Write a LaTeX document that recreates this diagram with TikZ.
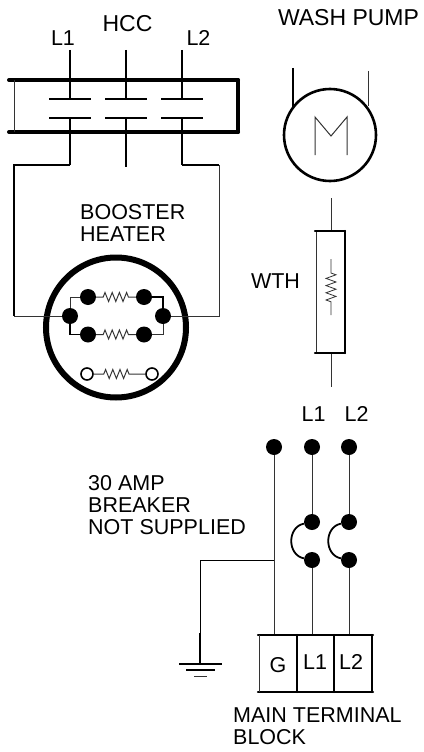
\documentclass[tikz,border=0pt]{standalone}
\usepackage{fontspec}
\setmainfont{Liberation Sans}
\usetikzlibrary{decorations.pathmorphing}
\tikzset{
  label21/.style={inner sep=0pt,font=\fontsize{21.5}{22}\selectfont,align=left},
  label23/.style={inner sep=0pt,font=\fontsize{23}{24}\selectfont},
  thinwire/.style={line width=1pt,black!80},
  wire/.style={line width=1.8pt},
  bar/.style={line width=4pt,line cap=round},
  blockbar/.style={line width=2.2pt,line cap=round},
  dot/.style={circle,fill=black,inner sep=0pt,minimum size=16pt},
  opendot/.style={circle,draw,line width=1.6pt,fill=white,inner sep=0pt,minimum size=12pt},
  coil/.style={thinwire,decorate,decoration={zigzag,segment length=7.2pt,amplitude=4.5pt,pre length=7pt,post length=4pt}}
}
\begin{document}
\begin{tikzpicture}[x=1pt,y=-1pt]
\useasboundingbox (0,0) rectangle (423,752);
%Names
\node (hccl1) at (63,38) [label21] {L1};
\node (hcc) at (127.5,24) [label23] {HCC};
\node (hccl2) at (198.5,38) [label21] {L2};
\node (washpump) at (348.5,18) [label23] {WASH PUMP};
\node (booster) at (80,222.5) [label21,anchor=west] {BOOSTER\\HEATER};
\node (wth) at (275.5,281) [label21] {WTH};
\node (mainl1) at (313.5,414) [label21] {L1};
\node (mainl2) at (356.5,414) [label21] {L2};
\node (breaker) at (88,505) [label21,anchor=west] {30 AMP\\BREAKER\\NOT SUPPLIED};
\node (mainblock) at (233,726) [label21,anchor=west] {MAIN TERMINAL\\BLOCK};
\node (termg) at (278,665) [label21] {G};
\node (terml1) at (315,662) [label21] {L1};
\node (terml2) at (351,662) [label21] {L2};

%Contactor
\coordinate (toprail) at (9,80);
\coordinate (toprailend) at (238,80);
\coordinate (botrail) at (9,132);
\coordinate (botrailend) at (238,132);
\draw [bar] (toprail) -- (toprailend);
\draw [bar] (botrail) -- (botrailend);
\draw [bar] (toprailend) -- (botrailend);
\draw [thinwire] (14,80) -- (14,132);
%Contacts
\draw [wire] (49,99) -- (91,99);
\draw [wire] (105,99) -- (147,99);
\draw [wire] (161,99) -- (203,99);
\draw [wire] (49,118) -- (91,118);
\draw [wire] (105,118) -- (147,118);
\draw [wire] (161,118) -- (203,118);
%Poles
\coordinate (l1in) at (70,50);
\coordinate (l1up) at (70,99);
\coordinate (l1low) at (70,118);
\coordinate (l1out) at (70,165);
\coordinate (hcin) at (126,50);
\coordinate (hcup) at (126,99);
\coordinate (hclow) at (126,118);
\coordinate (hcout) at (126,167);
\coordinate (l2in) at (182,50);
\coordinate (l2up) at (182,99);
\coordinate (l2low) at (182,118);
\coordinate (l2out) at (182,165);
\draw [wire] (l1in) -- (l1up);
\draw [wire] (hcin) -- (hcup);
\draw [wire] (l2in) -- (l2up);
\draw [wire] (l1low) -- (l1out);
\draw [wire] (hclow) -- (hcout);
\draw [wire] (l2low) -- (l2out);

%Booster heater
\node (heater) at (116,327.5) [circle,draw,line width=6pt,inner sep=0pt,minimum size=140pt] {};
\node (dotleft) at (70,316) [dot] {};
\node (dotright) at (163,316) [dot] {};
\node (dota) at (88,297) [dot] {};
\node (dotb) at (144,297) [dot] {};
\node (dotc) at (88,334.5) [dot] {};
\node (dotd) at (144,334.5) [dot] {};
\node (opena) at (87,374) [opendot] {};
\node (openb) at (152,374) [opendot] {};
\draw [coil] (dota) -- (dotb);
\draw [coil] (dotc) -- (dotd);
\draw [coil,decoration={pre length=10pt,post length=16pt}] (opena) -- (openb);
\draw [thinwire] (dotleft) |- (dota);
\draw [wire] (dotleft) |- (dotc);
\draw [wire] (dotb) -| (dotright);
\draw [thinwire] (dotright) |- (dotd);
%Feeds
\draw [wire] (l1out) -- (14,165) -- (14,316);
\draw [thinwire] (14,316) -- (dotleft);
\draw [wire] (l2out) -- (219,165);
\draw [thinwire] (219,165) -- (219,316) -- (dotright);

%Wash pump
\node (motor) at (330,135) [circle,draw,line width=2.6pt,inner sep=0pt,minimum size=92pt] {};
\coordinate (motorin) at (293,68);
\coordinate (motorinend) at (293,109);
\coordinate (motorback) at (368,71);
\coordinate (motorbackend) at (368,106);
\draw [wire] (motorin) -- (motorinend);
\draw [thinwire] (motorback) -- (motorbackend);
\draw [thinwire] (315,155) -- (315,117) -- (331,136) -- (347,117) -- (347,155);

%WTH
\coordinate (wthin) at (331,198);
\coordinate (wthtop) at (331,231);
\coordinate (wthbot) at (331,353);
\coordinate (wthout) at (331,387);
\coordinate (wthcoila) at (331,259);
\coordinate (wthcoilb) at (331,315);
\draw [thinwire] (wthin) -- (wthtop);
\draw [thinwire] (wthbot) -- (wthout);
\draw [thinwire] (316,231) -- (316,353);
\draw [blockbar] (345,231) -- (345,353);
\draw [blockbar] (315,231) -- (345,231);
\draw [blockbar] (315,353) -- (345,353);
\draw [coil,line width=0.8pt,decoration={segment length=7.2pt,amplitude=5pt,pre length=14pt,post length=13pt}] (wthcoila) -- (wthcoilb);

%Breaker
\node (gdot) at (274,447) [dot] {};
\node (l1dot) at (312,447) [dot] {};
\node (l2dot) at (349,447) [dot] {};
\node (l1on) at (312,522) [dot] {};
\node (l1off) at (312,560) [dot] {};
\node (l2on) at (349,522) [dot] {};
\node (l2off) at (349,560) [dot] {};
\coordinate (gterm) at (274,635);
\coordinate (l1term) at (312,635);
\coordinate (l2term) at (349,635);
\coordinate (gtap) at (274,560);
\draw [thinwire] (gdot) -- (gterm);
\draw [thinwire] (l1dot) -- (l1on);
\draw [thinwire] (l2dot) -- (l2on);
\draw [thinwire] (l1off) -- (l1term);
\draw [thinwire] (l2off) -- (l2term);
\draw [wire] (l1on) .. controls (287,527) and (287,555) .. (l1off);
\draw [wire] (l2on) .. controls (324,527) and (324,555) .. (l2off);

%Ground
\coordinate (gndmid) at (200,633);
\coordinate (gndend) at (200,664);
\draw [line width=0.9pt] (gtap) -| (gndmid);
\draw [wire] (gndmid) -- (gndend);
\draw [wire] (179,664) -- (222,664);
\draw [wire] (186,670) -- (215,670);
\draw [thinwire] (194,676) -- (207,676);

%Terminal block
\draw [blockbar] (258,635) -- (373,635);
\draw [blockbar] (258,692) -- (373,692);
\draw [thinwire] (259,635) -- (259,692);
\draw [blockbar] (297,635) -- (297,692);
\draw [blockbar] (334,635) -- (334,692);
\draw [blockbar] (372,635) -- (372,692);
\end{tikzpicture}
\end{document}
